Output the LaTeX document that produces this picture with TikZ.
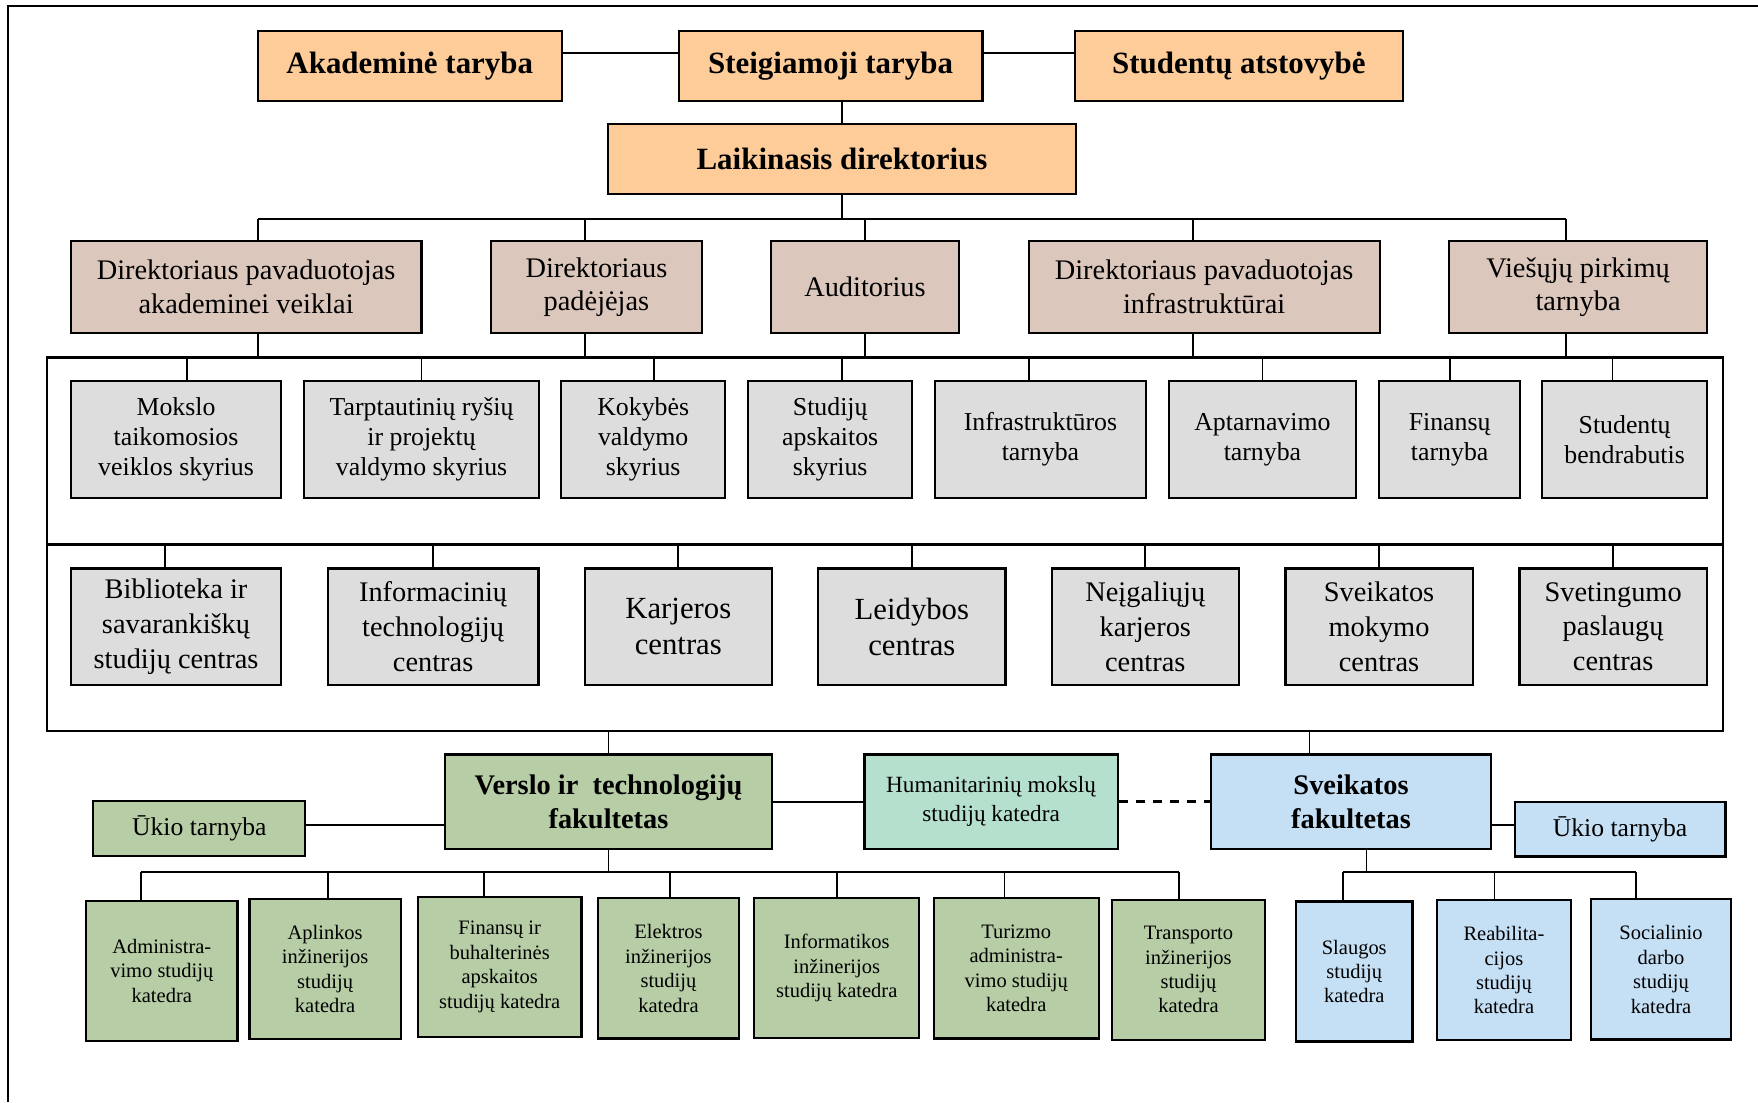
\documentclass[tikz,border=0pt]{standalone}
\usepackage{fontspec}
\setmainfont{Liberation Serif}
\usepackage{tikz}
\usetikzlibrary{positioning}
\definecolor{orng}{RGB}{253,204,153}
\definecolor{brwn}{RGB}{220,199,188}
\definecolor{gry}{RGB}{221,221,221}
\definecolor{grn}{RGB}{182,205,166}
\definecolor{mint}{RGB}{181,224,206}
\definecolor{blu}{RGB}{197,223,245}

\begin{document}
\begin{tikzpicture}[x=0.1mm, y=-0.1mm, line width=0.45pt,
	bx/.style={shape=rectangle, draw=black, line width=0.55pt, align=center, inner sep=1pt},
	wd/.style={minimum width=#1mm},
	top/.style={bx, fill=orng, minimum height=6.25mm, font=\fontsize{7.85pt}{9pt}\selectfont\bfseries},
	dir/.style={bx, fill=brwn, minimum height=8.2mm, font=\fontsize{7.2pt}{8.5pt}\selectfont},
	sky/.style={bx, fill=gry, minimum height=10.4mm, font=\fontsize{6.55pt}{7.55pt}\selectfont},
	ctr/.style={bx, fill=gry, minimum height=10.4mm, font=\fontsize{7.2pt}{8.8pt}\selectfont},
	fak/.style={bx, minimum height=8.4mm, font=\fontsize{7.2pt}{8.5pt}\selectfont\bfseries},
	ukis/.style={bx, minimum height=4.85mm, font=\fontsize{6.5pt}{7.5pt}\selectfont},
	kat/.style={bx, minimum height=12.5mm, font=\fontsize{5.2pt}{6.2pt}\selectfont}]
	\useasboundingbox (0,0) rectangle (1568,983);
	\draw (7,983) -- (7,5.4) -- (1568,5.4);

	\node[top, wd=27.1] (AT) at (365.5,58.6) {Akademinė taryba};
	\node[top, wd=27.1] (ST) at (740.8,58.6) {Steigiamoji taryba};
	\node[top, wd=29.2] (SA) at (1105,58.6) {Studentų atstovybė};
	\node[top, wd=41.7] (LD) at (751,142) {Laikinasis direktorius};

	\node[dir, wd=31.3] (DPA) at (219.5,256) {Direktoriaus pavaduotojas\\akademinei veiklai};
	\node[dir, wd=18.8] (DP) at (532,256) {Direktoriaus\\padėjėjas};
	\node[dir, wd=16.7] (AU) at (771.5,256) {Auditorius};
	\node[dir, wd=31.3] (DPI) at (1074,256) {Direktoriaus pavaduotojas\\infrastruktūrai};
	\node[dir, wd=23.0] (VP) at (1407.5,256) {Viešųjų pirkimų\\tarnyba};

	\node[shape=rectangle, draw=black, line width=0.6pt, minimum width=149.5mm, minimum height=33.3mm] (grp) at (789.5,485.5) {};

	\node[sky, wd=18.8] (MT) at (157,392) {Mokslo\\taikomosios\\veiklos skyrius};
	\node[sky, wd=20.9] (TR) at (376,392) {Tarptautinių ryšių\\ir projektų\\valdymo skyrius};
	\node[sky, wd=14.6] (KV) at (573.7,392) {Kokybės\\valdymo\\skyrius};
	\node[sky, wd=14.6] (SAS) at (740.5,392) {Studijų\\apskaitos\\skyrius};
	\node[sky, wd=18.8] (IT) at (928,392) {Infrastruktūros\\tarnyba};
	\node[sky, wd=16.7] (APT) at (1126,392) {Aptarnavimo\\tarnyba};
	\node[sky, wd=12.6] (FT) at (1293,392) {Finansų\\tarnyba};
	\node[sky, wd=14.7] (SB) at (1449,392) {Studentų\\bendrabutis};

	\node[ctr, wd=18.8] (BSC) at (157,559) {Biblioteka ir\\savarankiškų\\studijų centras};
	\node[ctr, wd=18.8] (ITC) at (386.3,559) {Informacinių\\technologijų\\centras};
	\node[ctr, wd=16.7, font=\fontsize{7.8pt}{9.1pt}\selectfont] (KC) at (605,559) {Karjeros\\centras};
	\node[ctr, wd=16.7, font=\fontsize{7.8pt}{9.1pt}\selectfont] (LC) at (813.3,559) {Leidybos\\centras};
	\node[ctr, wd=16.7] (NKC) at (1021.5,559) {Neįgaliųjų\\karjeros\\centras};
	\node[ctr, wd=16.7] (SMC) at (1230,559) {Sveikatos\\mokymo\\centras};
	\node[ctr, wd=16.7] (SPC) at (1438.8,559) {Svetingumo\\paslaugų\\centras};

	\node[fak, fill=grn, wd=29.2] (VTF) at (542.7,715) {Verslo ir~ technologijų\\fakultetas};
	\node[ukis, fill=grn, wd=18.9] (UT1) at (177.8,739) {Ūkio tarnyba};
	\node[bx, fill=mint, wd=22.6, minimum height=8.4mm, font=\fontsize{5.9pt}{7.4pt}\selectfont] (HMK) at (884,715) {Humanitarinių mokslų\\studijų katedra};
	\node[fak, fill=blu, wd=25] (SF) at (1205,715) {Sveikatos\\fakultetas};
	\node[ukis, fill=blu, wd=18.8] (UT2) at (1445,739.7) {Ūkio tarnyba};

	\node[kat, fill=grn, wd=13.5] (AVK) at (144.3,865.8) {Administra-\\vimo studijų\\katedra};
	\node[kat, fill=grn, wd=13.5] (AIK) at (290,864.4) {Aplinkos\\inžinerijos\\studijų\\katedra};
	\node[kat, fill=grn, wd=14.6] (FBK) at (445.7,862.4) {Finansų ir\\buhalterinės\\apskaitos\\studijų katedra};
	\node[kat, fill=grn, wd=12.6] (EIK) at (596.2,863.7) {Elektros\\inžinerijos\\studijų\\katedra};
	\node[kat, fill=grn, wd=14.7] (IIK) at (746.3,863.5) {Informatikos\\inžinerijos\\studijų katedra};
	\node[kat, fill=grn, wd=14.7] (TAK) at (906.4,863.7) {Turizmo\\administra-\\vimo studijų\\katedra};
	\node[kat, fill=grn, wd=13.6] (TIK) at (1060,864.9) {Transporto\\inžinerijos\\studijų\\katedra};

	\node[kat, fill=blu, wd=10.4] (SSK) at (1207.9,866.5) {Slaugos\\studijų\\katedra};
	\node[kat, fill=blu, wd=11.9] (RSK) at (1341.4,865.4) {Reabilita-\\cijos\\studijų\\katedra};
	\node[kat, fill=blu, wd=12.5] (SDK) at (1481.5,864.7) {Socialinio\\darbo\\studijų\\katedra};

	\coordinate (b1) at (0,195);
	\coordinate (b4) at (0,777.6);

	\draw ([yshift=1.1mm]AT.east) -- ([yshift=1.1mm]ST.west);
	\draw ([yshift=1.1mm]ST.east) -- ([yshift=1.1mm]SA.west);
	\draw (LD.north) -- (LD.north |- ST.south);

	\draw (LD.south) -- (LD.south |- b1);
	\draw ([xshift=1.05mm]DPA.north |- b1) -- ([xshift=-1.05mm]VP.north |- b1);
	\draw ([xshift=1.05mm]DPA.north) -- ([xshift=1.05mm]DPA.north |- b1);
	\draw ([xshift=-1.03mm]DP.north) -- ([xshift=-1.03mm]DP.north |- b1);
	\draw (AU.north) -- (AU.north |- b1);
	\draw ([xshift=-1mm]DPI.north) -- ([xshift=-1mm]DPI.north |- b1);
	\draw ([xshift=-1.05mm]VP.north) -- ([xshift=-1.05mm]VP.north |- b1);

	\draw ([xshift=1.05mm]DPA.south) -- ([xshift=1.05mm]DPA.south |- grp.north);
	\draw ([xshift=-1.03mm]DP.south) -- ([xshift=-1.03mm]DP.south |- grp.north);
	\draw (AU.south) -- (AU.south |- grp.north);
	\draw ([xshift=-1mm]DPI.south) -- ([xshift=-1mm]DPI.south |- grp.north);
	\draw ([xshift=-1.05mm]VP.south) -- ([xshift=-1.05mm]VP.south |- grp.north);

	\draw ([xshift=1mm]MT.north) -- ([xshift=1mm]MT.north |- grp.north);
	\draw (TR.north) -- (TR.north |- grp.north);
	\draw ([xshift=0.96mm]KV.north) -- ([xshift=0.96mm]KV.north |- grp.north);
	\draw ([xshift=1.05mm]SAS.north) -- ([xshift=1.05mm]SAS.north |- grp.north);
	\draw ([xshift=-1.03mm]IT.north) -- ([xshift=-1.03mm]IT.north |- grp.north);
	\draw (APT.north) -- (APT.north |- grp.north);
	\draw (FT.north) -- (FT.north |- grp.north);
	\draw ([xshift=-1.07mm]SB.north) -- ([xshift=-1.07mm]SB.north |- grp.north);

	\draw[line width=0.6pt] (grp.west) -- (grp.east);
	\draw ([xshift=-1mm]BSC.north) -- ([xshift=-1mm]BSC.north |- grp.center);
	\draw (ITC.north) -- (ITC.north |- grp.center);
	\draw (KC.north) -- (KC.north |- grp.center);
	\draw (LC.north) -- (LC.north |- grp.center);
	\draw (NKC.north) -- (NKC.north |- grp.center);
	\draw (SMC.north) -- (SMC.north |- grp.center);
	\draw (SPC.north) -- (SPC.north |- grp.center);

	\draw (VTF.north) -- (VTF.north |- grp.south);
	\draw ([xshift=-3.7mm]SF.north) -- ([xshift=-3.7mm]SF.north |- grp.south);
	\draw ([yshift=0.3mm]UT1.east) -- ([yshift=0.3mm]UT1.east -| VTF.west);
	\draw (VTF) -- (HMK);
	\draw[line width=0.6pt, dash pattern=on 2.3pt off 2pt] (HMK) -- (SF);
	\draw ([yshift=0.37mm]UT2.west) -- ([yshift=0.37mm]UT2.west -| SF.east);

	\draw (VTF.south) -- (VTF.south |- b4);
	\draw[line width=0.6pt] ([xshift=-1.88mm]AVK.north |- b4) -- ([xshift=-0.83mm]TIK.north |- b4);
	\draw ([xshift=-1.88mm]AVK.north) -- ([xshift=-1.88mm]AVK.north |- b4);
	\draw ([xshift=0.24mm]AIK.north) -- ([xshift=0.24mm]AIK.north |- b4);
	\draw ([xshift=-1.41mm]FBK.north) -- ([xshift=-1.41mm]FBK.north |- b4);
	\draw ([xshift=0.13mm]EIK.north) -- ([xshift=0.13mm]EIK.north |- b4);
	\draw (IIK.north) -- (IIK.north |- b4);
	\draw ([xshift=-1.04mm]TAK.north) -- ([xshift=-1.04mm]TAK.north |- b4);
	\draw ([xshift=-0.83mm]TIK.north) -- ([xshift=-0.83mm]TIK.north |- b4);

	\draw ([xshift=1.38mm]SF.south) -- ([xshift=1.38mm]SF.south |- b4);
	\draw[line width=0.6pt] ([xshift=-0.99mm]SSK.north |- b4) -- ([xshift=-2.2mm]SDK.north |- b4);
	\draw ([xshift=-0.99mm]SSK.north) -- ([xshift=-0.99mm]SSK.north |- b4);
	\draw ([xshift=-0.84mm]RSK.north) -- ([xshift=-0.84mm]RSK.north |- b4);
	\draw ([xshift=-2.2mm]SDK.north) -- ([xshift=-2.2mm]SDK.north |- b4);
\end{tikzpicture}
\end{document}
